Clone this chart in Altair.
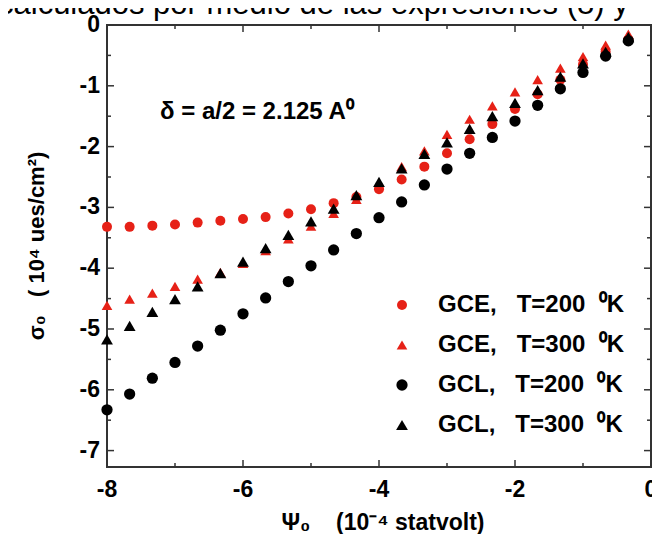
import altair as alt
import pandas as pd

# ---- data ----
psi = [-8.0, -7.667, -7.333, -7.0, -6.667, -6.333, -6.0, -5.667, -5.333, -5.0,
       -4.667, -4.333, -4.0, -3.667, -3.333, -3.0, -2.667, -2.333, -2.0, -1.667,
       -1.333, -1.0, -0.667, -0.333]
gce_200 = [-3.32, -3.32, -3.30, -3.28, -3.25, -3.22, -3.19, -3.16, -3.10, -3.03,
           -2.93, -2.83, -2.70, -2.54, -2.33, -2.11, -1.88, -1.63, -1.38, -1.14,
           -0.90, -0.65, -0.44, -0.24]
gce_300 = [-4.61, -4.51, -4.41, -4.30, -4.18, -4.07, -3.92, -3.71, -3.52, -3.31,
           -3.10, -2.87, -2.63, -2.33, -2.07, -1.80, -1.55, -1.33, -1.10, -0.90,
           -0.71, -0.52, -0.33, -0.15]
gcl_200 = [-6.33, -6.07, -5.81, -5.55, -5.28, -5.02, -4.75, -4.49, -4.22, -3.96,
           -3.70, -3.43, -3.17, -2.91, -2.63, -2.37, -2.11, -1.85, -1.58, -1.32,
           -1.05, -0.78, -0.51, -0.26]
gcl_300 = [-5.17, -4.95, -4.72, -4.51, -4.30, -4.08, -3.89, -3.67, -3.45, -3.23,
           -3.02, -2.80, -2.58, -2.36, -2.12, -1.93, -1.71, -1.50, -1.28, -1.07,
           -0.85, -0.63, -0.44, -0.20]

NB = "\u00a0"
series_names = ["GCE," + NB * 3 + "T=200" + NB * 2 + "\u2070K",
                "GCE," + NB * 3 + "T=300" + NB * 2 + "\u2070K",
                "GCL," + NB * 3 + "T=200" + NB * 2 + "\u2070K",
                "GCL," + NB * 3 + "T=300" + NB * 2 + "\u2070K"]
series_colors = ["#e62117", "#e62117", "#000000", "#000000"]
series_shapes = ["circle", "triangle-up", "circle", "triangle-up"]
series_sizes = [100, 140, 100, 140]

x_major = [-8, -6, -4, -2, 0]
x_minor = [-7, -5, -3, -1]
y_major = [0, -1, -2, -3, -4, -5, -6, -7]
y_minor = [-0.5, -1.5, -2.5, -3.5, -4.5, -5.5, -6.5]

top_text = ["calculados por medio de las expresiones (8) y"]
note_text = ["\u03b4 = a/2 = 2.125 A\u2070"]
x_title = ["\u03a8\u2080" + NB * 4 + "(10\u207b\u2074" + NB + "statvolt)"]
y_title = ["\u03c3\u2080" + NB * 3 + "(" + NB + "10\u2074" + NB + "ues/cm\u00b2)"]

rows = []
for name, vals in zip(series_names, [gce_200, gce_300, gcl_200, gcl_300]):
    for xv, yv in zip(psi, vals):
        rows.append({"psi": xv, "sigma": yv, "series": name})
df = pd.DataFrame(rows)

W, H = 544, 442
FONT = "Liberation Sans"
TICK_COLOR = "#333333"
MAJOR, MINOR = 7, 4

xs = alt.Scale(domain=[-8, 0], nice=False, zero=False)
ys = alt.Scale(domain=[-7.27, 0], nice=False, zero=False)

legend = alt.Legend(
    orient="none", legendX=283, legendY=268, title=None, padding=0,
    labelFont=FONT, labelFontSize=24, labelFontWeight="bold", labelColor="black",
    labelLimit=400, labelOffset=24, symbolSize=60, symbolStrokeWidth=0,
    rowPadding=16)

points = alt.Chart(df).mark_point(filled=True, opacity=1, strokeWidth=0).encode(
    x=alt.X("psi:Q", scale=xs, axis=None),
    y=alt.Y("sigma:Q", scale=ys, axis=None),
    color=alt.Color("series:N", scale=alt.Scale(domain=series_names, range=series_colors), legend=legend),
    shape=alt.Shape("series:N", scale=alt.Scale(domain=series_names, range=series_shapes), legend=legend),
    size=alt.Size("series:N", scale=alt.Scale(domain=series_names, range=series_sizes), legend=None),
)


# inward tick marks on all four edges: short stroked line symbols placed
# through the shared scales (the path length equals sqrt(size) pixels)
def tick_marks(values, channel, length):
    d = alt.Chart(pd.DataFrame({"tv": values}))
    style = dict(filled=False, opacity=1, color=TICK_COLOR, strokeWidth=1.5,
                 size=length * length)
    if channel == "y":
        enc = alt.Y("tv:Q", scale=ys, axis=None)
        a = d.mark_point(shape="M0,0L2,0", **style).encode(y=enc, x=alt.value(0))
        b = d.mark_point(shape="M0,0L-2,0", **style).encode(y=enc, x=alt.value(W))
    else:
        enc = alt.X("tv:Q", scale=xs, axis=None)
        a = d.mark_point(shape="M0,0L0,-2", **style).encode(x=enc, y=alt.value(H))
        b = d.mark_point(shape="M0,0L0,2", **style).encode(x=enc, y=alt.value(0))
    return [a, b]


tick_layers = (tick_marks(y_major, "y", MAJOR) + tick_marks(y_minor, "y", MINOR)
               + tick_marks(x_major, "x", MAJOR) + tick_marks(x_minor, "x", MINOR))

# tick labels, placed through the same scales
label_style = dict(font=FONT, fontSize=23, fontWeight="bold", color="black")
y_labels = alt.Chart(pd.DataFrame({"v": y_major, "lab": [str(v) for v in y_major]})).mark_text(
    align="right", baseline="middle", **label_style).encode(
    y=alt.Y("v:Q", scale=ys, axis=None), x=alt.value(-7), text="lab:N")
x_labels = alt.Chart(pd.DataFrame({"v": x_major, "lab": [str(v) for v in x_major]})).mark_text(
    align="center", baseline="top", **label_style).encode(
    x=alt.X("v:Q", scale=xs, axis=None), y=alt.value(H + 12), text="lab:N")

title_style = dict(font=FONT, fontWeight="bold", color="black")
x_title_mark = alt.Chart(pd.DataFrame({"t": x_title})).mark_text(
    align="center", baseline="alphabetic", fontSize=23, **title_style).encode(
    text="t:N", x=alt.value(W / 2 + 4), y=alt.value(H + 63))
y_title_mark = alt.Chart(pd.DataFrame({"t": y_title})).mark_text(
    align="center", baseline="middle", angle=270, fontSize=22, **title_style).encode(
    text="t:N", x=alt.value(-70), y=alt.value(221))

note = alt.Chart(pd.DataFrame({"t": note_text})).mark_text(
    align="left", baseline="alphabetic", font=FONT, fontSize=24,
    fontWeight="bold", color="black").encode(
    text="t:N", x=alt.value(53), y=alt.value(94))

header = alt.Chart(pd.DataFrame({"t": top_text})).mark_text(
    align="left", baseline="alphabetic", font=FONT, fontSize=31,
    color="black").encode(
    text="t:N", x=alt.value(-109), y=alt.value(-11))

chart = alt.layer(points, y_labels, x_labels, x_title_mark, y_title_mark,
                  note, header, *tick_layers).properties(
    width=W, height=H,
    autosize=alt.AutoSizeParams(type="none"),
    padding={"left": 99, "top": 17, "right": 1, "bottom": 67},
).configure_view(stroke="#333333", strokeWidth=2)

chart.save("out.html", embed_options={"renderer": "svg", "actions": False})
